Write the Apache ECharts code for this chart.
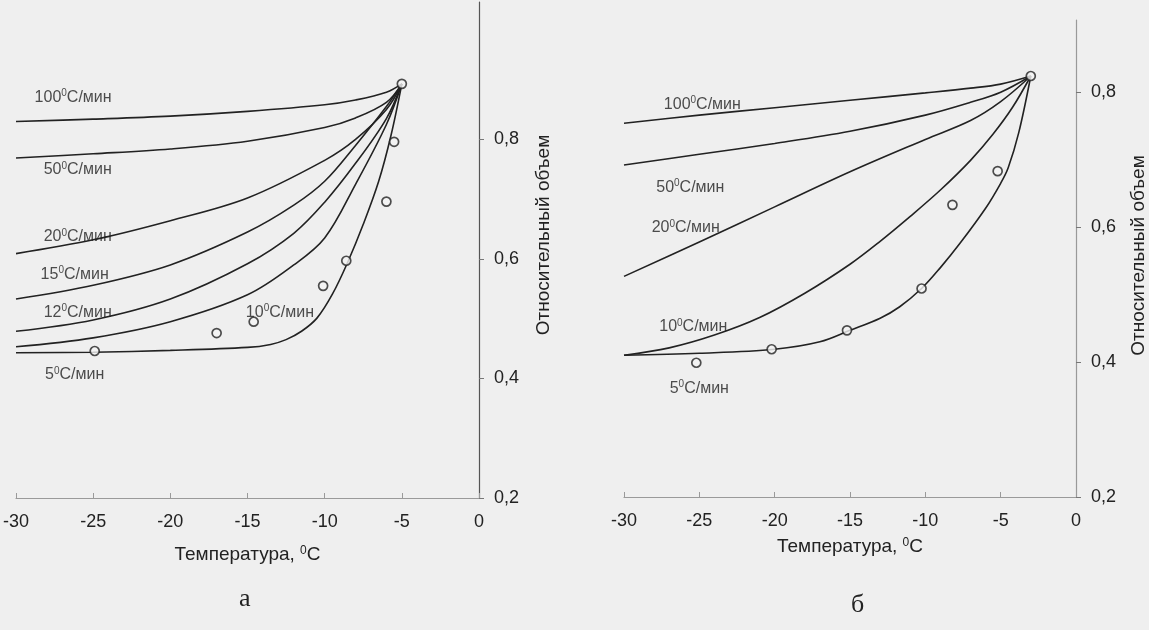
<!DOCTYPE html>
<html>
<head>
<meta charset="utf-8">
<script src="https://cdn.jsdelivr.net/npm/echarts@6/dist/echarts.min.js"></script>
<style>
  html, body { margin: 0; padding: 0; background: #efefef; }
  #chart { width: 1149px; height: 630px; }
</style>
</head>
<body>
<div id="chart"></div>
<script>
// Panel "а": cooling rate curves, relative volume vs temperature
const ratesA = [100, 50, 20, 15, 12, 10, 5];
const tempA = [-30, -25, -20, -15, -10, -8, -6, -5];
const tempA2 = [-30, -25, -20, -15, -12, -10, -8, -6, -5];
const tempA5 = [-30, -25, -20, -15, -13.5, -12.5, -11.5, -10.5, -9.5, -8.5, -7.5, -6.5, -5.7, -5];
const volA100 = [0.830, 0.834, 0.839, 0.847, 0.858, 0.866, 0.879, 0.893];
const volA50 = [0.769, 0.776, 0.784, 0.797, 0.820, 0.836, 0.862, 0.893];
const volA20 = [0.609, 0.632, 0.664, 0.702, 0.765, 0.800, 0.850, 0.893];
const volA15 = [0.533, 0.556, 0.590, 0.645, 0.690, 0.730, 0.790, 0.855, 0.893];
const volA12 = [0.479, 0.498, 0.533, 0.592, 0.643, 0.695, 0.760, 0.835, 0.893];
const volA10 = [0.453, 0.468, 0.495, 0.540, 0.590, 0.635, 0.725, 0.825, 0.893];
const volA5 = [0.443, 0.444, 0.447, 0.452, 0.457, 0.465, 0.479, 0.501, 0.541, 0.595, 0.658, 0.730, 0.807, 0.893];
const expTempA = [-24.9, -17.0, -14.6, -10.1, -8.6, -6.0, -5.5, -5.0];
const expVolA = [0.446, 0.476, 0.495, 0.555, 0.597, 0.696, 0.796, 0.893];
const labelPosA = [[-26.3, 0.870], [-26.0, 0.749], [-26.0, 0.637], [-26.2, 0.574], [-26.0, 0.510], [-12.9, 0.510], [-26.2, 0.406]];

// Panel "б"
const ratesB = [100, 50, 20, 10, 5];
const tempB = [-30, -25, -20, -15, -10, -7, -5, -3];
const tempB10 = [-30, -27, -24, -21, -18, -15, -13, -11, -9, -7, -5.5, -4.2, -3];
const tempB5 = [-30, -25, -20, -17, -15, -13, -11.7, -10.25, -9, -7.7, -6, -5, -4.5, -3.8, -3];
const volB100 = [0.754, 0.766, 0.777, 0.788, 0.799, 0.806, 0.812, 0.824];
const volB50 = [0.692, 0.708, 0.724, 0.742, 0.766, 0.785, 0.800, 0.824];
const volB20 = [0.527, 0.578, 0.630, 0.682, 0.730, 0.758, 0.786, 0.824];
const volB10 = [0.410, 0.421, 0.440, 0.466, 0.502, 0.545, 0.579, 0.616, 0.655, 0.699, 0.738, 0.778, 0.824];
const volB5 = [0.410, 0.413, 0.419, 0.430, 0.447, 0.465, 0.482, 0.509, 0.540, 0.576, 0.628, 0.665, 0.688, 0.740, 0.824];
const expTempB = [-25.2, -20.2, -15.2, -10.25, -8.2, -5.2, -3];
const expVolB = [0.399, 0.419, 0.447, 0.509, 0.633, 0.683, 0.824];
const labelPosB = [[-24.8, 0.782], [-25.6, 0.659], [-25.9, 0.599], [-25.4, 0.452], [-25.0, 0.361]];

const volTicks = [0.2, 0.4, 0.6, 0.8];

const INK = '#222';
const FONT = 'Liberation Sans';

const zip = (xs, ys) => xs.map((x, i) => [x, ys[i]]);

function curve(xs, ys, idx) {
  return {
    type: 'line',
    xAxisIndex: idx,
    yAxisIndex: idx,
    data: zip(xs, ys),
    smooth: 0.35,
    symbol: 'none',
    silent: true,
    lineStyle: { color: INK, width: 1.6 },
    z: 2
  };
}

function points(xs, ys, idx) {
  return {
    type: 'scatter',
    xAxisIndex: idx,
    yAxisIndex: idx,
    data: zip(xs, ys),
    symbol: 'circle',
    symbolSize: 9,
    silent: true,
    itemStyle: { color: '#f4f4f4', borderColor: INK, borderWidth: 1.7 },
    z: 3
  };
}

const supRich = {
  n: { fontFamily: FONT, fontSize: 16, color: INK, lineHeight: 18 },
  s: { fontFamily: FONT, fontSize: 10, color: INK, verticalAlign: 'top', lineHeight: 10 }
};

function rateLabels(pos, rates, idx) {
  return {
    type: 'scatter',
    xAxisIndex: idx,
    yAxisIndex: idx,
    data: pos.map((p, i) => [p[0], p[1], rates[i]]),
    symbolSize: 0,
    silent: true,
    label: {
      show: true,
      position: 'inside',
      formatter: p => '{n|' + p.data[2] + '}{s|0}{n|C/мин}',
      rich: supRich
    },
    z: 4
  };
}

const tickLabel = {
  fontFamily: FONT, fontSize: 18, color: INK, margin: 15
};

function xAxis(idx) {
  return {
    type: 'value',
    gridIndex: idx,
    min: -30, max: 0, interval: 5,
    name: 'Температура, {s|0}C',
    nameLocation: 'middle',
    nameGap: idx === 0 ? 47 : 40,
    nameTextStyle: {
      fontFamily: FONT, fontSize: 19, color: INK,
      rich: {
        s: { fontFamily: FONT, fontSize: 12, color: INK, verticalAlign: 'top', lineHeight: 12 }
      }
    },
    axisLine: { onZero: false, lineStyle: { color: '#9a9a9a', width: 1.2 } },
    axisTick: { inside: true, length: 5, lineStyle: { color: '#9a9a9a' } },
    axisLabel: tickLabel,
    splitLine: { show: false }
  };
}

function yAxis(idx, max) {
  return {
    type: 'value',
    gridIndex: idx,
    position: 'right',
    min: 0.2, max: max,
    name: 'Относительный объем',
    nameLocation: 'middle',
    nameRotate: 90,
    nameGap: idx === 0 ? 55 : 53,
    nameTextStyle: {
      fontFamily: FONT, fontSize: 19, color: INK,
      padding: idx === 0 ? [0, 0, 0, 30] : [0, 0, 0, 6]
    },
    axisLine: { onZero: false, lineStyle: { color: idx === 0 ? '#555' : '#999', width: 1.2 } },
    axisTick: { length: 5, customValues: volTicks, lineStyle: { color: '#777' } },
    axisLabel: Object.assign({}, tickLabel, {
      customValues: volTicks,
      formatter: v => v.toFixed(1).replace('.', ',')
    }),
    splitLine: { show: false }
  };
}

const chart = echarts.init(document.getElementById('chart'));

const option = {
  backgroundColor: '#efefef',
  animation: false,
  grid: [
    { left: 12, right: 670, top: 2, bottom: 132 },
    { left: 624, right: 72, top: 20, bottom: 133 }
  ],
  xAxis: [xAxis(0), xAxis(1)],
  yAxis: [yAxis(0, 1.03), yAxis(1, 0.907)],
  graphic: [
    { type: 'text', left: 239, top: 586, style: { text: 'а', font: '26px "Liberation Serif"', fill: INK } },
    { type: 'text', left: 851, top: 592, style: { text: 'б', font: '26px "Liberation Serif"', fill: INK } }
  ],
  series: [
    curve(tempA, volA100, 0),
    curve(tempA, volA50, 0),
    curve(tempA, volA20, 0),
    curve(tempA2, volA15, 0),
    curve(tempA2, volA12, 0),
    curve(tempA2, volA10, 0),
    curve(tempA5, volA5, 0),
    points(expTempA, expVolA, 0),
    rateLabels(labelPosA, ratesA, 0),
    curve(tempB, volB100, 1),
    curve(tempB, volB50, 1),
    curve(tempB, volB20, 1),
    curve(tempB10, volB10, 1),
    curve(tempB5, volB5, 1),
    points(expTempB, expVolB, 1),
    rateLabels(labelPosB, ratesB, 1)
  ]
};

chart.setOption(option);
</script>
</body>
</html>
